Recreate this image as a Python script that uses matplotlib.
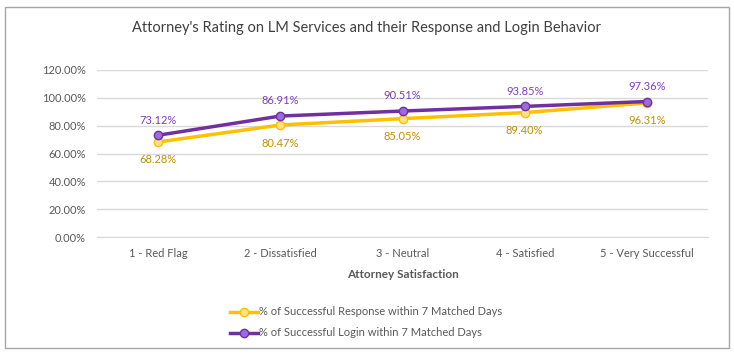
import matplotlib.pyplot as plt
from matplotlib.lines import Line2D
from matplotlib.patches import Rectangle
from matplotlib.ticker import MultipleLocator, FuncFormatter

plt.rcParams['font.family'] = ['Lato', 'DejaVu Sans']

categories = ['1 - Red Flag', '2 - Dissatisfied', '3 - Neutral', '4 - Satisfied', '5 - Very Successful']
response = [68.28, 80.47, 85.05, 89.40, 96.31]
login = [73.12, 86.91, 90.51, 93.85, 97.36]
series_names = ['% of Successful Response within 7 Matched Days',
                '% of Successful Login within 7 Matched Days']

yellow, yellow_face, yellow_text = '#FFC000', '#FFE38A', '#BF9000'
purple, purple_face, purple_text = '#7030A0', '#9B6BE0', '#7B3FBF'
grey_text = '#595959'

fig = plt.figure(figsize=(7.34, 3.55), dpi=100)
fig.patches.append(Rectangle((5 / 734, 1 - 348 / 355), 724 / 734, 341 / 355,
                             transform=fig.transFigure, fill=False,
                             edgecolor='#A6A6A6', linewidth=1))

ax = fig.add_axes([97 / 734, 1 - 237 / 355, 611 / 734, 167 / 355])
x = list(range(1, len(categories) + 1))

ax.plot(x, response, color=yellow, linewidth=2.5, marker='o', markersize=6,
        markerfacecolor=yellow_face, markeredgecolor=yellow, zorder=3)
ax.plot(x, login, color=purple, linewidth=2.5, marker='o', markersize=6,
        markerfacecolor=purple_face, markeredgecolor=purple, zorder=4)

for xi, r, l in zip(x, response, login):
    ax.annotate(f'{r:.2f}%', (xi, r), xytext=(0, -9), textcoords='offset points',
                ha='center', va='top', fontsize=8, color=yellow_text)
    ax.annotate(f'{l:.2f}%', (xi, l), xytext=(0, 7), textcoords='offset points',
                ha='center', va='bottom', fontsize=8, color=purple_text)

ax.set_xlim(0.5, len(categories) + 0.5)
ax.set_ylim(0, 120)
ax.yaxis.set_major_locator(MultipleLocator(20))
ax.yaxis.set_major_formatter(FuncFormatter(lambda v, p: f'{v:.2f}%'))
ax.set_xticks(x)
ax.set_xticklabels(categories)
ax.tick_params(axis='both', length=0, labelsize=8, labelcolor=grey_text, pad=8)
ax.grid(axis='y', color='#D9D9D9', linewidth=1)
ax.set_axisbelow(True)
for side in ['top', 'right', 'left']:
    ax.spines[side].set_visible(False)
ax.spines['bottom'].set_color('#D9D9D9')

ax.set_xlabel('Attorney Satisfaction', fontsize=8.5, fontweight='bold',
              color=grey_text, labelpad=7)

fig.text(0.5, 1 - 28 / 355, "Attorney's Rating on LM Services and their Response and Login Behavior",
         ha='center', va='center', fontsize=10.5, color='#404040')

handles = [
    Line2D([], [], color=yellow, linewidth=2.5, marker='o', markersize=6,
           markerfacecolor=yellow_face, markeredgecolor=yellow),
    Line2D([], [], color=purple, linewidth=2.5, marker='o', markersize=6,
           markerfacecolor=purple_face, markeredgecolor=purple),
]
leg = fig.legend(handles, series_names, loc='upper left',
                 bbox_to_anchor=(226 / 734, 1 - 302 / 355), frameon=False,
                 fontsize=8, handlelength=2.5, handletextpad=0.1,
                 labelspacing=0.9, borderaxespad=0)
for t in leg.get_texts():
    t.set_color(grey_text)

fig.savefig('out.png', dpi=100)
